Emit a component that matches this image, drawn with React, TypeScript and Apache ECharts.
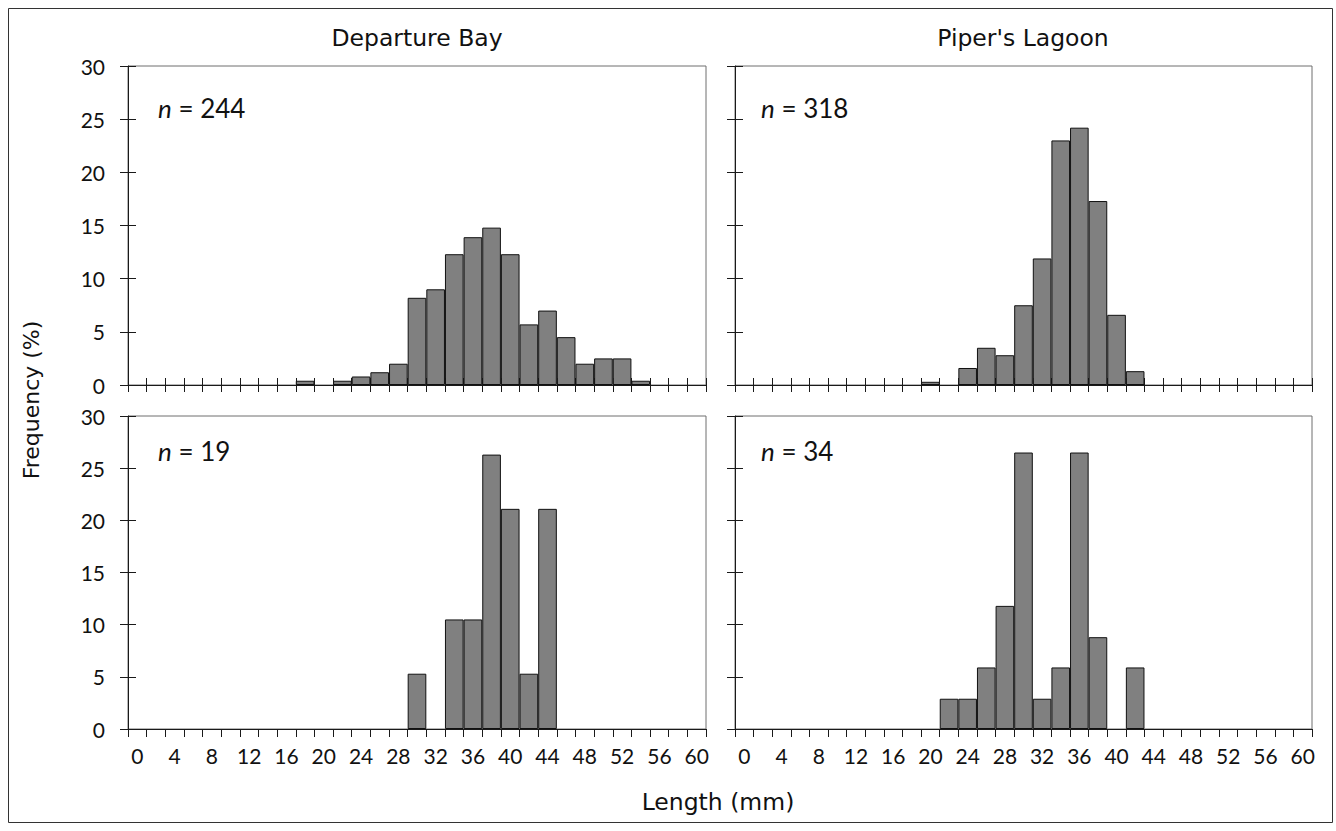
import React, { useEffect, useRef } from "react";
import * as echarts from "echarts";

// Length classes (mm), one category per 2-mm bin
const lengthBins = [
  "0", "2", "4", "6", "8", "10", "12", "14", "16", "18", "20", "22", "24", "26", "28", "30",
  "32", "34", "36", "38", "40", "42", "44", "46", "48", "50", "52", "54", "56", "58", "60",
];

// Frequency (%) per bin
const departureBayTop = [
  null, null, null, null, null, null, null, null, null, 0.4, null, 0.4, 0.8, 1.2, 2.0, 8.2,
  9.0, 12.3, 13.9, 14.8, 12.3, 5.7, 7.0, 4.5, 2.0, 2.5, 2.5, 0.4, null, null, null,
];
const pipersLagoonTop = [
  null, null, null, null, null, null, null, null, null, null, 0.3, null, 1.6, 3.5, 2.8, 7.5,
  11.9, 23.0, 24.2, 17.3, 6.6, 1.3, null, null, null, null, null, null, null, null, null,
];
const departureBayBottom = [
  null, null, null, null, null, null, null, null, null, null, null, null, null, null, null, 5.3,
  null, 10.5, 10.5, 26.3, 21.1, 5.3, 21.1, null, null, null, null, null, null, null, null,
];
const pipersLagoonBottom = [
  null, null, null, null, null, null, null, null, null, null, null, 2.9, 2.9, 5.9, 11.8, 26.5,
  2.9, 5.9, 26.5, 8.8, null, 5.9, null, null, null, null, null, null, null, null, null,
];

const siteTitles = ["Departure Bay", "Piper's Lagoon"];
const sampleSizes = ["244", "318", "19", "34"];
const yTicks = { min: 0, max: 30, interval: 5 };

const AXIS_COLOR = "#1a1a1a";
const LABEL_FONT = "Lato, 'Open Sans', sans-serif";
const TITLE_FONT = "'DejaVu Sans', Verdana, sans-serif";

export default function App() {
  const ref = useRef<HTMLDivElement>(null);

  useEffect(() => {
    if (!ref.current) return;
    const chart = echarts.init(ref.current, null, { renderer: "svg" });

    const grids = [
      { left: 128, top: 66, width: 578, height: 319 },
      { left: 735, top: 66, width: 577, height: 319 },
      { left: 128, top: 416, width: 578, height: 313 },
      { left: 735, top: 416, width: 577, height: 313 },
    ];
    const seriesData = [departureBayTop, pipersLagoonTop, departureBayBottom, pipersLagoonBottom];

    const xAxes: any[] = [];
    const yAxes: any[] = [];
    const series: any[] = [];

    grids.forEach((g, i) => {
      const isBottom = i >= 2;
      const isLeft = i % 2 === 0;
      xAxes.push({
        type: "category",
        gridIndex: i,
        data: lengthBins,
        boundaryGap: true,
        axisLine: { show: true, lineStyle: { color: AXIS_COLOR, width: 1 } },
        axisTick: { show: true, inside: false, length: isBottom ? 8 : 7, interval: 0, lineStyle: { color: AXIS_COLOR } },
        axisLabel: {
          show: isBottom,
          interval: 1,
          margin: 16,
          color: "#111",
          fontFamily: LABEL_FONT,
          fontSize: 21,
        },
        splitLine: { show: false },
      });
      xAxes.push({
        type: "category",
        gridIndex: i,
        data: lengthBins,
        boundaryGap: true,
        position: "bottom",
        axisLine: { show: false },
        axisTick: { show: !isBottom, inside: true, length: 7, interval: 0, lineStyle: { color: AXIS_COLOR } },
        axisLabel: { show: false },
        splitLine: { show: false },
      });
      yAxes.push({
        type: "value",
        gridIndex: i,
        position: "left",
        min: yTicks.min,
        max: yTicks.max,
        interval: yTicks.interval,
        axisLine: { show: true, lineStyle: { color: AXIS_COLOR, width: 1 } },
        axisTick: { show: true, inside: false, length: 8, lineStyle: { color: AXIS_COLOR } },
        axisLabel: {
          show: isLeft,
          margin: 23,
          color: "#111",
          fontFamily: LABEL_FONT,
          fontSize: 21,
        },
        splitLine: { show: false },
      });
      yAxes.push({
        type: "value",
        gridIndex: i,
        position: "left",
        min: yTicks.min,
        max: yTicks.max,
        interval: yTicks.interval,
        axisLine: { show: false },
        axisTick: { show: true, inside: true, length: 8, lineStyle: { color: AXIS_COLOR } },
        axisLabel: { show: false },
        splitLine: { show: false },
      });
      series.push({
        type: "bar",
        xAxisIndex: i * 2,
        yAxisIndex: i * 2,
        data: seriesData[i],
        barCategoryGap: "0%",
        barGap: "0%",
        itemStyle: { color: "#808080", borderColor: "#111", borderWidth: 1 },
        z: 1,
      });
    });

    const nLabel = (x: number, y: number, n: string) => ({
      type: "text",
      x,
      y,
      style: {
        text: `{i|n} = ${n}`,
        rich: {
          i: { fontStyle: "italic", fontFamily: LABEL_FONT, fontSize: 26, fill: "#111" },
        },
        fontFamily: LABEL_FONT,
        fontSize: 26,
        fill: "#111",
        verticalAlign: "middle",
        align: "left",
      },
    });

    chart.setOption({
      animation: false,
      backgroundColor: "#ffffff",
      grid: grids.map((g) => ({
        ...g,
        show: true,
        borderColor: "#6e6e6e",
        borderWidth: 1,
        containLabel: false,
      })),
      xAxis: xAxes,
      yAxis: yAxes,
      series,
      graphic: [
        {
          type: "rect",
          shape: { x: 8.5, y: 8.5, width: 1324, height: 814 },
          style: { fill: "none", stroke: "#333", lineWidth: 1 },
          silent: true,
        },
        {
          type: "text",
          x: 417,
          y: 38,
          style: { text: siteTitles[0], fontFamily: TITLE_FONT, fontSize: 23.5, fill: "#111", align: "center", verticalAlign: "middle" },
        },
        {
          type: "text",
          x: 1023,
          y: 38,
          style: { text: siteTitles[1], fontFamily: TITLE_FONT, fontSize: 23.5, fill: "#111", align: "center", verticalAlign: "middle" },
        },
        {
          type: "text",
          x: 31,
          y: 400,
          rotation: Math.PI / 2,
          style: { text: "Frequency (%)", fontFamily: TITLE_FONT, fontSize: 22, fill: "#111", align: "center", verticalAlign: "middle" },
        },
        {
          type: "text",
          x: 718,
          y: 802,
          style: { text: "Length (mm)", fontFamily: TITLE_FONT, fontSize: 23.5, fill: "#111", align: "center", verticalAlign: "middle" },
        },
        nLabel(158, 108, sampleSizes[0]),
        nLabel(761, 108, sampleSizes[1]),
        nLabel(158, 451, sampleSizes[2]),
        nLabel(761, 451, sampleSizes[3]),
      ],
    });

    return () => chart.dispose();
  }, []);

  return (
    <div
      ref={ref}
      style={{ position: "absolute", left: 0, top: 0, width: 1336, height: 831, background: "#fff" }}
    />
  );
}
